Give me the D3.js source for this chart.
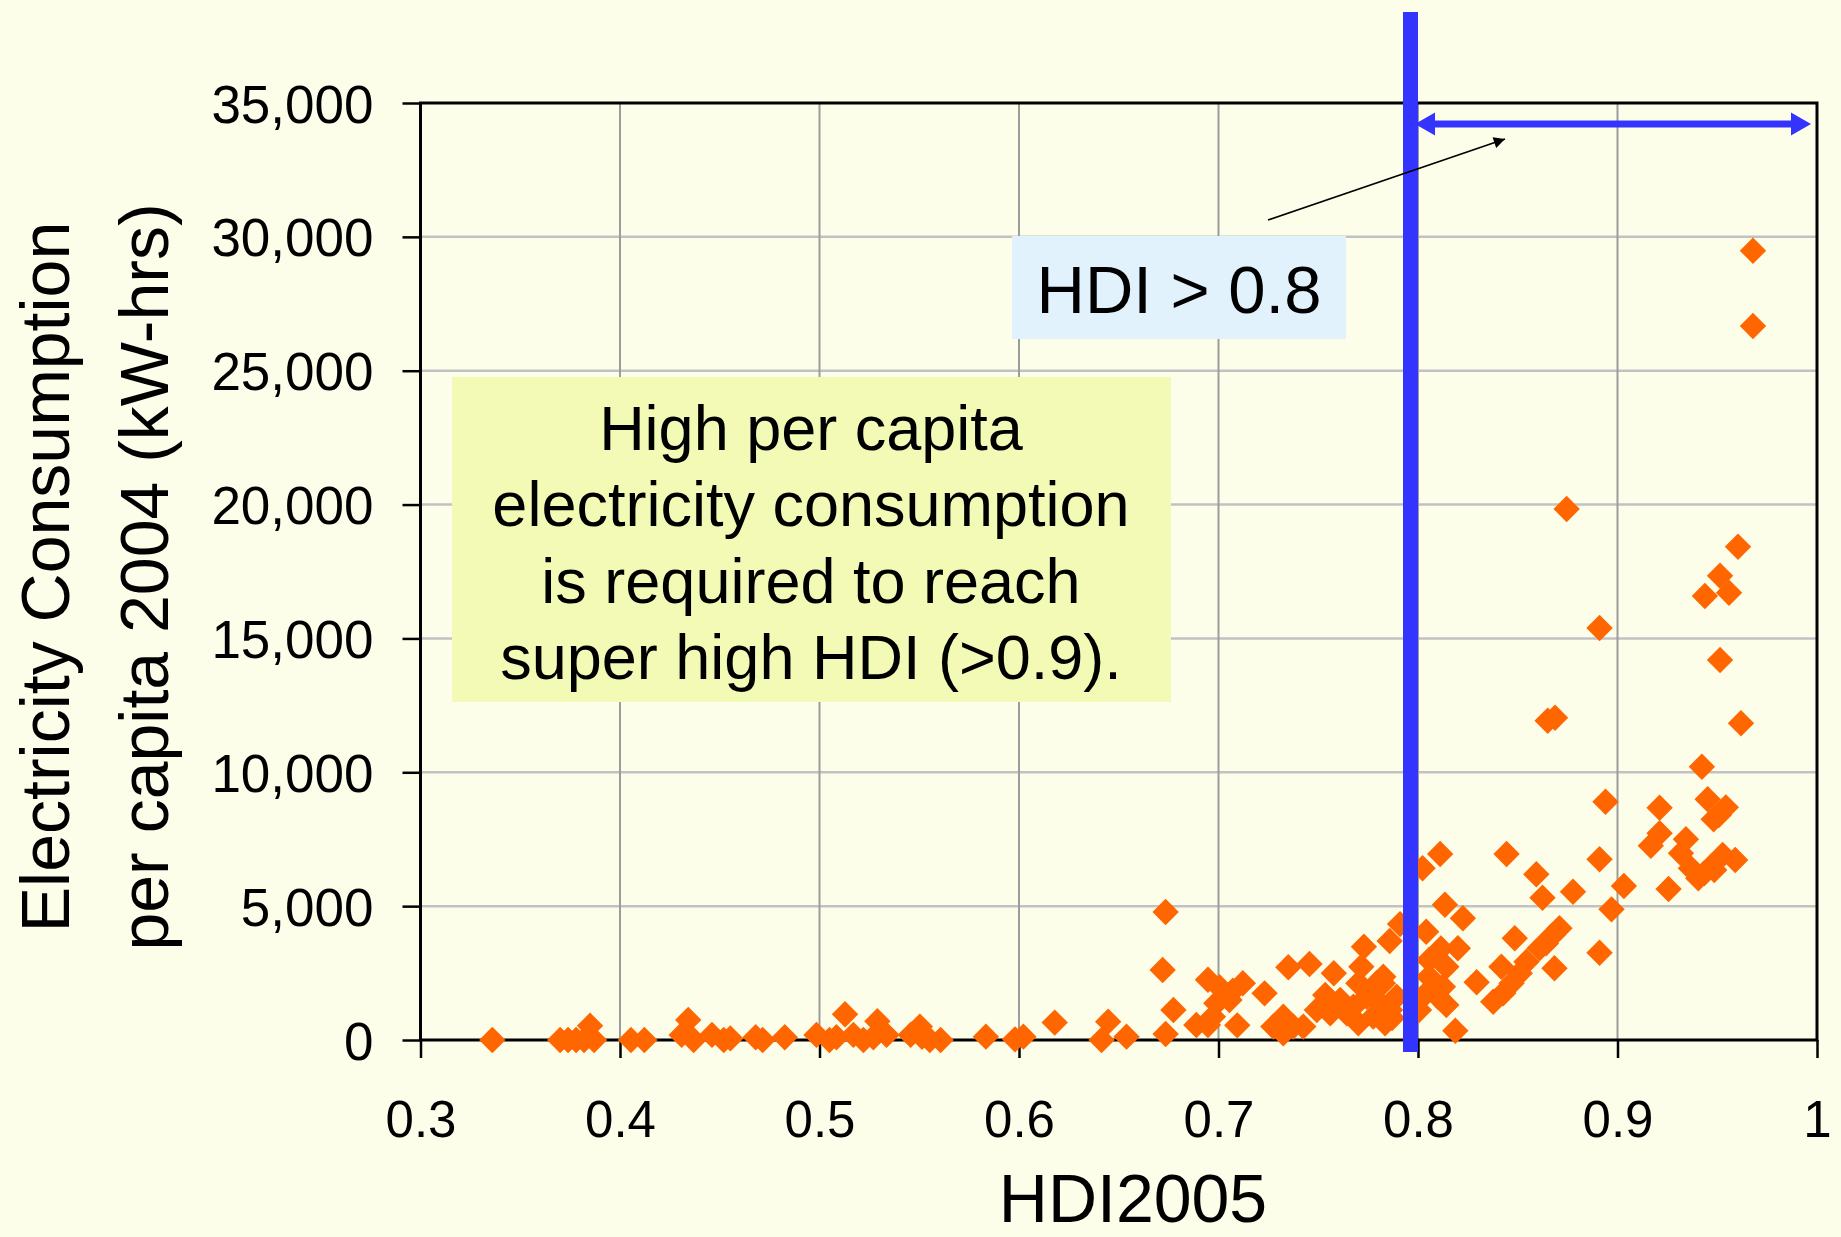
<!DOCTYPE html>
<html>
<head>
<meta charset="utf-8">
<script src="https://cdn.jsdelivr.net/npm/d3@7"></script>
<style>
  html, body { margin: 0; padding: 0; background: #fcfeea; }
  svg { display: block; }
  text { font-family: "Liberation Sans", Arial, sans-serif; fill: #000; }
</style>
</head>
<body>
<svg id="chart" width="1841" height="1237"></svg>
<script>
// Human Development Index 2005 (x) vs. electricity use per capita 2004, kWh (y)
const hdi = [
  0.336, 0.370, 0.374, 0.378, 0.382, 0.387, 0.385,
  0.4055, 0.4122, 0.4342, 0.4309, 0.4369, 0.4461, 0.452, 0.4553, 0.468, 0.4715, 0.4826,
  0.4985, 0.505, 0.5085, 0.5128, 0.517, 0.522, 0.527, 0.529, 0.5336,
  0.5457, 0.5503, 0.5514, 0.5553, 0.5607, 0.5834, 0.598, 0.6022, 0.6179,
  0.6414, 0.6447, 0.6539, 0.6735, 0.672, 0.6774, 0.6735,
  0.6889, 0.6947, 0.6947, 0.6972, 0.6989, 0.7005, 0.7055, 0.7072, 0.7094, 0.7122,
  0.7231, 0.735, 0.7456, 0.7578, 0.7275, 0.7325, 0.7325, 0.7375, 0.7425,
  0.7493, 0.7535, 0.756, 0.761, 0.7643, 0.7676, 0.7701, 0.7701, 0.7716, 0.7729,
  0.7743, 0.7776, 0.7793, 0.781, 0.7826, 0.7835, 0.7858, 0.786, 0.791, 0.7893, 0.787, 0.7824,
  0.8005, 0.8023, 0.8041, 0.8041, 0.8055, 0.8055, 0.81, 0.8111, 0.8115, 0.8125,
  0.8135, 0.8142, 0.8142, 0.8187, 0.82, 0.8225, 0.8294,
  0.8377, 0.8418, 0.8427, 0.8444, 0.8469, 0.8485, 0.851, 0.8544, 0.8593, 0.8609,
  0.8624, 0.8642, 0.865, 0.8675, 0.8684, 0.8687, 0.8709, 0.8745, 0.8777,
  0.891, 0.891, 0.891, 0.894, 0.897, 0.9032, 0.9167, 0.9211, 0.9211, 0.9256,
  0.9318, 0.9343, 0.9368, 0.9405, 0.9423, 0.9435, 0.9438, 0.9452, 0.9468, 0.9482,
  0.9485, 0.9508, 0.9514, 0.9514, 0.9527, 0.9543, 0.9559, 0.959, 0.9604, 0.9619,
  0.9679, 0.9679
];
const kwh = [
  0, 0, 0, 0, 0, 0, 530,
  0, 0, 750, 190, 0, 190, 0, 60, 100, 0, 100,
  190, 0, 100, 960, 190, 0, 100, 700, 190,
  190, 500, 120, 0, 0, 125, 25, 125, 650,
  0, 685, 125, 4780, 2614, 1120, 224,
  560, 560, 2250, 870, 1370, 1968, 1494, 1843, 548, 2117,
  1743, 2715, 2839, 2491, 500, 872, 250, 500, 500,
  1120, 1681, 996, 1494, 996, 1245, 623, 2117, 2738, 3485,
  1617, 872, 2117, 1370, 2365, 623, 3698, 1120, 4330, 1617, 820, 2117,
  1120, 6413, 4045, 1743, 2990, 2364, 1617, 6947, 3420, 1990,
  5050, 2738, 1307, 347, 3425, 4545, 2155,
  1431, 2738, 1743, 6947, 2117, 3798, 2491, 2925, 6189, 3425,
  5316, 3612, 11926, 3922, 2678, 12038, 4172, 19833, 5540,
  15388, 6749, 3261, 8901, 4881, 5752, 7257, 8677, 7720, 5640,
  6973, 7496, 6413, 6039, 10208, 6226, 16583, 8990, 6473, 8243,
  6350, 8404, 17342, 14193, 6910, 8691, 16707, 6723, 18425, 11829,
  29481, 26668
];

const xTicks = [0.3, 0.4, 0.5, 0.6, 0.7, 0.8, 0.9, 1.0];
const yTicks = [0, 5000, 10000, 15000, 20000, 25000, 30000, 35000];
const hdiThreshold = 0.8;

const noteLines = [
  "High per capita",
  "electricity consumption",
  "is required to reach",
  "super high HDI (>0.9)."
];
const thresholdLabel = "HDI > 0.8";
const xTitle = "HDI2005";
const yTitleLines = ["Electricity Consumption", "per capita 2004 (kW-hrs)"];

const svg = d3.select("#chart");
const plot = { left: 420.5, right: 1817, top: 103, bottom: 1040 };

const x = d3.scaleLinear().domain([0.3, 1.0]).range([plot.left, plot.right]);
const y = d3.scaleLinear().domain([0, 35000]).range([plot.bottom, plot.top]);

// page background
svg.append("rect")
  .attr("width", 1841).attr("height", 1237)
  .attr("fill", "#fcfeea");

// gridlines: vertical darker, horizontal lighter
const grid = svg.append("g");
grid.selectAll("line.h").data(yTicks.slice(1, -1)).join("line")
  .attr("x1", plot.left).attr("x2", plot.right)
  .attr("y1", d => y(d)).attr("y2", d => y(d))
  .attr("stroke", "#c2c2c2").attr("stroke-width", 2.5);
grid.selectAll("line.v").data(xTicks.slice(1, -1)).join("line")
  .attr("y1", plot.top).attr("y2", plot.bottom)
  .attr("x1", d => x(d)).attr("x2", d => x(d))
  .attr("stroke", "#9c9c9c").attr("stroke-width", 2);

// annotation boxes
const note = svg.append("g");
note.append("rect")
  .attr("x", 452).attr("y", 377).attr("width", 719).attr("height", 325)
  .attr("fill", "#f3fab6");
note.selectAll("text").data(noteLines).join("text")
  .attr("x", 811).attr("y", (d, i) => 450 + i * 76.3)
  .attr("text-anchor", "middle")
  .attr("font-size", 63)
  .text(d => d);

const lab = svg.append("g");
lab.append("rect")
  .attr("x", 1012).attr("y", 236).attr("width", 334).attr("height", 103)
  .attr("fill", "#e1f2fd");
lab.append("text")
  .attr("x", 1179).attr("y", 313)
  .attr("text-anchor", "middle")
  .attr("font-size", 67)
  .text(thresholdLabel);

// axes
const xAxis = d3.axisBottom(x).tickValues(xTicks).tickSize(18)
  .tickFormat(d => d3.format("")(+d.toFixed(1)));
const yAxis = d3.axisLeft(y).tickValues(yTicks).tickSize(18).tickFormat(d3.format(","));

const gx = svg.append("g").attr("transform", `translate(0,${plot.bottom})`).call(xAxis);
gx.select(".domain").remove();
gx.selectAll(".tick line").attr("stroke", "#000").attr("stroke-width", 2.5);
gx.selectAll(".tick text")
  .attr("y", 97).attr("dy", 0)
  .attr("font-size", 51)
  .style("font-family", "\"Liberation Sans\", Arial, sans-serif")
  .attr("fill", "#000");

const gy = svg.append("g").attr("transform", `translate(${plot.left},0)`).call(yAxis);
gy.select(".domain").remove();
gy.selectAll(".tick line").attr("stroke", "#000").attr("stroke-width", 2.5);
gy.selectAll(".tick text")
  .attr("x", -47).attr("dy", "0.36em")
  .attr("font-size", 53)
  .style("font-family", "\"Liberation Sans\", Arial, sans-serif")
  .attr("fill", "#000");

// plot frame
svg.append("rect")
  .attr("x", plot.left).attr("y", plot.top)
  .attr("width", plot.right - plot.left).attr("height", plot.bottom - plot.top)
  .attr("fill", "none").attr("stroke", "#000").attr("stroke-width", 3);

// scatter of countries, orange diamonds
const diamond = { draw(ctx, size) { const r = Math.sqrt(size / 2); ctx.moveTo(0, -r); ctx.lineTo(r, 0); ctx.lineTo(0, r); ctx.lineTo(-r, 0); ctx.closePath(); } };
const sym = d3.symbol().type(diamond).size(2 * 13.2 * 13.2);
svg.append("g").selectAll("path").data(d3.range(hdi.length)).join("path")
  .attr("transform", i => `translate(${x(hdi[i])},${y(kwh[i])})`)
  .attr("d", sym)
  .attr("fill", "#ff6600");

// HDI threshold marker
const blue = "#3434ff";
svg.append("rect")
  .attr("x", x(hdiThreshold) - 15).attr("y", 12)
  .attr("width", 15).attr("height", 1040)
  .attr("fill", blue);

// double-headed arrow spanning HDI 0.8 .. 1.0
const ay = 124, head = 20, hh = 11.5, th = 3.4;
const ax0 = x(hdiThreshold) - 3, ax1 = x(1.0) - 6;
svg.append("path")
  .attr("d", `M${ax0},${ay} L${ax0 + head},${ay - hh} L${ax0 + head},${ay - th} L${ax1 - head},${ay - th} L${ax1 - head},${ay - hh} L${ax1},${ay} L${ax1 - head},${ay + hh} L${ax1 - head},${ay + th} L${ax0 + head},${ay + th} L${ax0 + head},${ay + hh} Z`)
  .attr("fill", blue);

// thin pointer from the label to the arrow
const defs = svg.append("defs");
defs.append("marker")
  .attr("id", "tip").attr("viewBox", "0 0 10 10")
  .attr("refX", 10).attr("refY", 5)
  .attr("markerWidth", 9).attr("markerHeight", 7)
  .attr("markerUnits", "strokeWidth")
  .attr("orient", "auto")
  .append("path").attr("d", "M0,0 L10,5 L0,10 Z").attr("fill", "#000");
svg.append("line")
  .attr("x1", 1268).attr("y1", 220).attr("x2", 1505).attr("y2", 139)
  .attr("stroke", "#000").attr("stroke-width", 1.6)
  .attr("marker-end", "url(#tip)");

// axis titles
svg.append("text")
  .attr("x", 1133).attr("y", 1222)
  .attr("text-anchor", "middle")
  .attr("font-size", 68)
  .text(xTitle);
svg.selectAll("text.ytitle").data(yTitleLines).join("text")
  .attr("class", "ytitle")
  .attr("transform", (d, i) => `translate(${i === 0 ? 69 : 168},577) rotate(-90)`)
  .attr("text-anchor", "middle")
  .attr("font-size", 68)
  .text(d => d);
</script>
</body>
</html>
